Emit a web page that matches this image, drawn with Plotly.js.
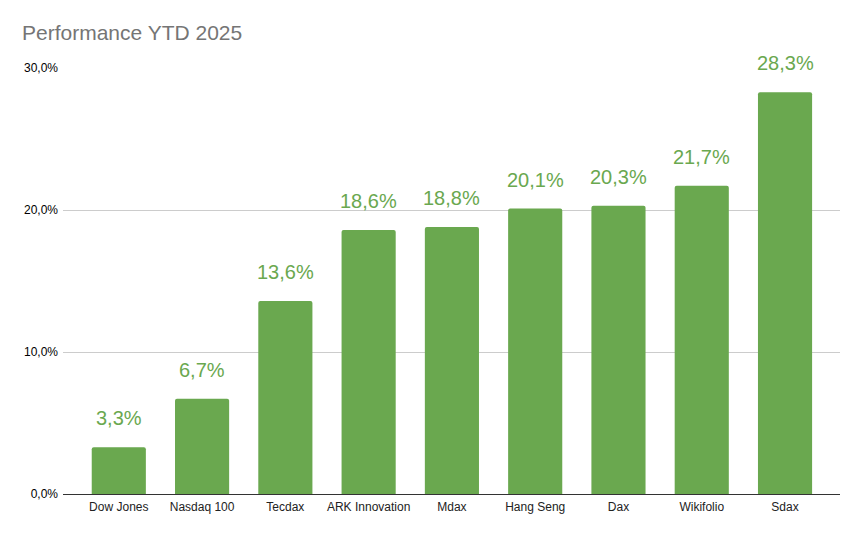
<!DOCTYPE html>
<html><head><meta charset="utf-8">
<script src="https://cdn.plot.ly/plotly-3.0.1.min.js"></script>
<style>html,body{margin:0;padding:0;background:#fff}#chart{width:860px;height:534px}</style>
</head><body><div id="chart"></div>
<script>
const categories = ["Dow Jones","Nasdaq 100","Tecdax","ARK Innovation","Mdax","Hang Seng","Dax","Wikifolio","Sdax"];
const values = [3.3, 6.7, 13.6, 18.6, 18.8, 20.1, 20.3, 21.7, 28.3];
const tickVals = [0, 10, 20, 30];

const green = "#6aa84f";
const fmt = v => v.toFixed(1).replace(".", ",") + "%";

const trace = {
  type: "bar", x: categories, y: values, width: 0.65,
  marker: {color: green, cornerradius: 2},
  hoverinfo: "none"
};
const annotations = categories.map((c, i) => ({
  x: c, y: values[i], xref: "x", yref: "y", text: fmt(values[i]),
  showarrow: false, yanchor: "bottom", yshift: 16,
  font: {family: "Liberation Sans, Arial, sans-serif", size: 20, color: green}
}));
const layout = {
  width: 860, height: 534,
  margin: {l: 63, r: 20, t: 68, b: 40},
  paper_bgcolor: "#fff", plot_bgcolor: "#fff",
  separators: ",.",
  font: {family: "Liberation Sans, Arial, sans-serif", size: 12, color: "#000"},
  title: {text: "Performance YTD 2025", x: 22/860, xanchor: "left", xref: "container",
          y: 1 - 33/534, yanchor: "middle", yref: "container",
          font: {family: "Liberation Sans, Arial, sans-serif", size: 21, color: "#757575"}},
  xaxis: {type: "category", range: [-0.67, 8.66], showgrid: false, ticks: "",
          ticklabelstandoff: 4,
          tickfont: {size: 12, color: "#222"}, showline: false, zeroline: false, fixedrange: true},
  yaxis: {range: [0, 30], tickvals: tickVals, ticktext: tickVals.map(fmt),
          showgrid: true, gridcolor: "#cccccc", gridwidth: 1,
          zeroline: true, zerolinecolor: "#333333", zerolinewidth: 1,
          ticklabelstandoff: 4,
          showline: false, ticks: "", tickfont: {size: 12, color: "#000"}, fixedrange: true},
  annotations: annotations,
  showlegend: false, bargap: 0.35
};
Plotly.newPlot("chart", [trace], layout, {displayModeBar: false, staticPlot: true});
</script></body></html>
